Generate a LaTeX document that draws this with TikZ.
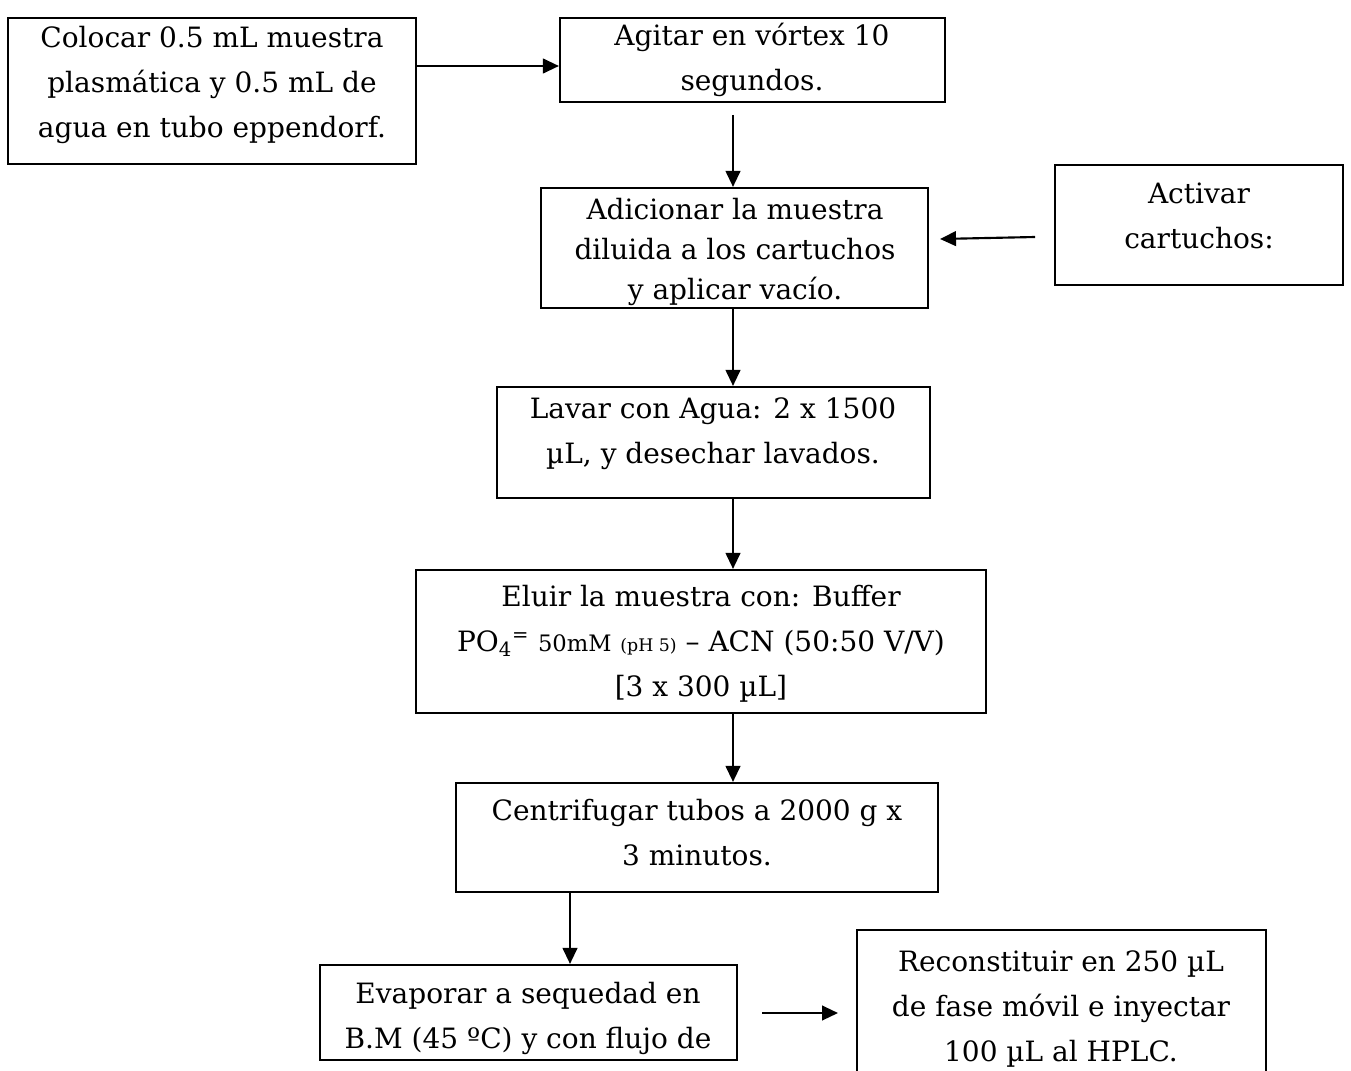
\documentclass[tikz,border=0pt]{standalone}
\usepackage{fontspec}
\setmainfont{DejaVu Serif}
\usetikzlibrary{arrows.meta,fit}
\tikzset{
  box/.style={draw=black, line width=1.6pt, inner sep=0pt, fill=none},
  txt/.style={align=center, inner sep=0pt, font=\fontsize{21}{33.75}\selectfont},
  arr/.style={line width=1.6pt, -{Triangle[length=12pt,width=11pt]}}
}
\begin{document}
\begin{tikzpicture}[x=0.75pt,y=-0.75pt]
\useasboundingbox[fill=white] (0,0) rectangle (1351,1070);
% boxes
\node[box, fit={(8,18) (416,164)}] (b1) {};
\node[box, fit={(560,18) (945,102)}] (b2) {};
\node[box, fit={(541,188) (928,308)}] (b3) {};
\node[box, fit={(1055,165) (1343,285)}] (bA) {};
\node[box, fit={(497,387) (930,498)}] (b4) {};
\node[box, fit={(416,570) (986,713)}] (b5) {};
\node[box, fit={(456,783) (938,892)}] (b6) {};
\node[box, fit={(320,965) (737,1060)}] (b7) {};
\node[box, fit={(857,930) (1266,1110)}] (b8) {};
% texts
\node[txt] (t1) at (212,85) {Colocar 0.5 mL muestra\\plasmática y 0.5 mL de\\agua en tubo eppendorf.};
\node[txt] (t2) at (752,60) {Agitar en vórtex 10\\segundos.};
\node[txt, font=\fontsize{21}{30}\selectfont] (t3) at (735,252) {Adicionar la muestra\\diluida a los cartuchos\\y aplicar vacío.};
\node[txt] (tA) at (1199,216) {Activar\\cartuchos:};
\node[txt] (t4) at (713,434) {Lavar con Agua: 2 x 1500\\µL, y desechar lavados.};
\node[txt] (t5) at (701,644) {Eluir la muestra con: Buffer\\PO\textsubscript{4}\textsuperscript{=} {\fontsize{17}{19}\selectfont 50mM} {\fontsize{13}{15}\selectfont (pH 5)} – ACN (50:50 V/V)\\{}[3 x 300 µL]};
\node[txt] (t6) at (697,833) {Centrifugar tubos a 2000 g x\\3 minutos.};
\node[txt] (t7) at (528,1018) {Evaporar a sequedad en\\B.M (45 ºC) y con flujo de};
\node[txt] (t8) at (1061,1009) {Reconstituir en 250 µL\\de fase móvil e inyectar\\100 µL al HPLC.};
% free ends
\coordinate (s2) at (733,115);
\coordinate (sA) at (1035,237);
\coordinate (eA) at (940,239);
\coordinate (s7) at (762,1013);
\coordinate (e7) at (838,1013);
% connectors
\draw[arr] (b1.east |- 0,66) -- (b2.west |- 0,66);
\draw[arr] (s2) -- (s2 |- b3.north);
\draw[arr] (sA) -- (eA);
\draw[arr] (b3.south -| s2) -- (b4.north -| s2);
\draw[arr] (b4.south -| s2) -- (b5.north -| s2);
\draw[arr] (b5.south -| s2) -- (b6.north -| s2);
\draw[arr] (b6.south -| 570,0) -- (b7.north -| 570,0);
\draw[arr] (s7) -- (e7);
\end{tikzpicture}
\end{document}
